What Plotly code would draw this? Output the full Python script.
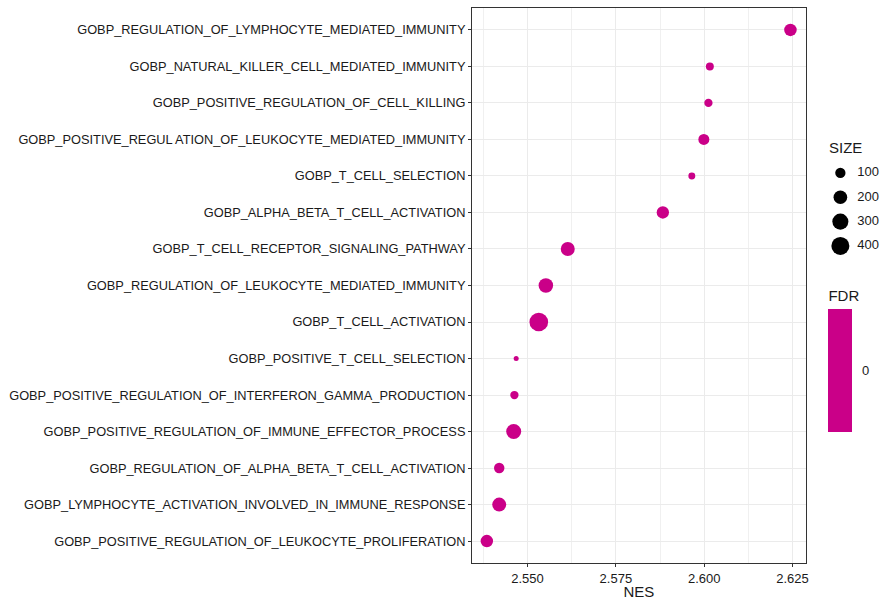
import plotly.graph_objects as go

pathways = [
    "GOBP_REGULATION_OF_LYMPHOCYTE_MEDIATED_IMMUNITY",
    "GOBP_NATURAL_KILLER_CELL_MEDIATED_IMMUNITY",
    "GOBP_POSITIVE_REGULATION_OF_CELL_KILLING",
    "GOBP_POSITIVE_REGUL ATION_OF_LEUKOCYTE_MEDIATED_IMMUNITY",
    "GOBP_T_CELL_SELECTION",
    "GOBP_ALPHA_BETA_T_CELL_ACTIVATION",
    "GOBP_T_CELL_RECEPTOR_SIGNALING_PATHWAY",
    "GOBP_REGULATION_OF_LEUKOCYTE_MEDIATED_IMMUNITY",
    "GOBP_T_CELL_ACTIVATION",
    "GOBP_POSITIVE_T_CELL_SELECTION",
    "GOBP_POSITIVE_REGULATION_OF_INTERFERON_GAMMA_PRODUCTION",
    "GOBP_POSITIVE_REGULATION_OF_IMMUNE_EFFECTOR_PROCESS",
    "GOBP_REGULATION_OF_ALPHA_BETA_T_CELL_ACTIVATION",
    "GOBP_LYMPHOCYTE_ACTIVATION_INVOLVED_IN_IMMUNE_RESPONSE",
    "GOBP_POSITIVE_REGULATION_OF_LEUKOCYTE_PROLIFERATION",
]
nes = [2.6244, 2.6016, 2.6012, 2.5999, 2.5965, 2.5883, 2.5614, 2.5552,
       2.5532, 2.5468, 2.5463, 2.5461, 2.5420, 2.5420, 2.5385]
size = [160, 59, 63, 117, 48, 154, 212, 232, 440, 40, 63, 253, 104, 212, 160]
fdr = [0] * len(pathways)

legend_sizes = [100, 200, 300, 400]
x_ticks = [2.550, 2.575, 2.600, 2.625]

COLOR = "#CA0088"
TXT = "#1a1a1a"
FONT = "Liberation Sans, Arial, sans-serif"

# ggplot-like area scale: diameter grows with sqrt of rescaled value
SMIN, SMAX = min(size), max(size)
DMIN, DMAX = 5.0, 18.7


def diam(v):
    t = max(0.0, (v - SMIN) / (SMAX - SMIN))
    return DMIN + (DMAX - DMIN) * t ** 0.5


W, H = 895, 600
L, R, T, B = 472, 0, 8, 37
paper_w = W - L - R
paper_h = H - T - B
panel_right = 808


def px(xp):
    return (xp - L) / paper_w


def py(yp):
    return (H - B - yp) / paper_h


n = len(pathways)

fig = go.Figure()

fig.add_trace(go.Scatter(
    x=nes, y=pathways, mode="markers",
    marker=dict(
        size=[diam(s) for s in size], opacity=1,
        color=fdr, cmin=-1, cmax=1,
        colorscale=[[0, COLOR], [1, COLOR]],
        line=dict(width=0),
        showscale=True,
        colorbar=dict(
            title=dict(text="FDR", side="top", font=dict(size=15, color=TXT, family=FONT)),
            x=px(831), xanchor="left",
            y=py(432), yanchor="bottom",
            thickness=24, thicknessmode="pixels",
            len=145, lenmode="pixels",
            tickvals=[0], ticktext=["0"],
            ticks="outside", ticklen=8, tickcolor="rgba(255,255,255,0)", tickwidth=1,
            tickfont=dict(size=13, color=TXT, family=FONT),
            outlinewidth=0, xpad=0, ypad=0,
        ),
    ),
    showlegend=False, hoverinfo="x+y",
))

# SIZE legend drawn on an auxiliary axis
fig.add_trace(go.Scatter(
    x=[13] * len(legend_sizes), y=[str(v) for v in legend_sizes], mode="markers",
    marker=dict(size=[diam(v) for v in legend_sizes], color="black", opacity=1, line=dict(width=0)),
    xaxis="x2", yaxis="y2", showlegend=False, hoverinfo="skip",
))
fig.add_trace(go.Scatter(
    x=[30] * len(legend_sizes), y=[str(v) for v in legend_sizes], mode="text",
    text=[str(v) for v in legend_sizes], textposition="middle right",
    textfont=dict(size=13, color=TXT, family=FONT),
    xaxis="x2", yaxis="y2", showlegend=False, hoverinfo="skip",
))

# white tick dashes inside the colour bar (ggplot style)
cb_tick_y = py(371)
shapes = [
    dict(type="line", xref="paper", yref="paper", x0=px(831), x1=px(836),
         y0=cb_tick_y, y1=cb_tick_y, line=dict(color="white", width=1)),
    dict(type="line", xref="paper", yref="paper", x0=px(850), x1=px(855),
         y0=cb_tick_y, y1=cb_tick_y, line=dict(color="white", width=1)),
]

fig.update_layout(
    width=W, height=H,
    margin=dict(l=L, r=R, t=T, b=B),
    paper_bgcolor="white", plot_bgcolor="white",
    font=dict(family=FONT, color=TXT),
    xaxis=dict(
        domain=[0, px(panel_right)],
        range=[2.5343, 2.6287],
        tickvals=x_ticks, ticktext=[f"{v:.3f}" for v in x_ticks],
        tickfont=dict(size=13, color=TXT),
        ticks="outside", ticklen=3, tickcolor="#333333",
        showgrid=True, gridcolor="#EBEBEB", gridwidth=1,
        minor=dict(dtick=0.0125, tick0=2.5375, showgrid=True, gridcolor="#F0F0F0", gridwidth=1),
        showline=True, linecolor="#333333", linewidth=1, mirror=True,
        zeroline=False,
        title=dict(text="NES", font=dict(size=15, color=TXT), standoff=2),
    ),
    yaxis=dict(
        categoryorder="array", categoryarray=pathways,
        range=[n - 1 + 0.6, -0.6],
        tickfont=dict(size=12.8, color=TXT),
        ticks="outside", ticklen=3, tickcolor="#333333",
        showgrid=True, gridcolor="#EBEBEB", gridwidth=1,
        showline=True, linecolor="#333333", linewidth=1, mirror=True,
        zeroline=False,
    ),
    xaxis2=dict(domain=[px(830), px(890)], range=[0, 60], visible=False, anchor="y2"),
    yaxis2=dict(domain=[py(258.1), py(160.8)], type="category",
                categoryorder="array", categoryarray=[str(v) for v in legend_sizes],
                range=[3.5, -0.5], visible=False, anchor="x2"),
    shapes=shapes,
    annotations=[dict(
        text="SIZE", x=px(830), y=py(147), xref="paper", yref="paper",
        xanchor="left", yanchor="middle", showarrow=False,
        font=dict(size=15, color=TXT, family=FONT),
    )],
)

fig.write_html("out.html", config={"displayModeBar": False},
               post_script="document.body.style.margin='0';")
